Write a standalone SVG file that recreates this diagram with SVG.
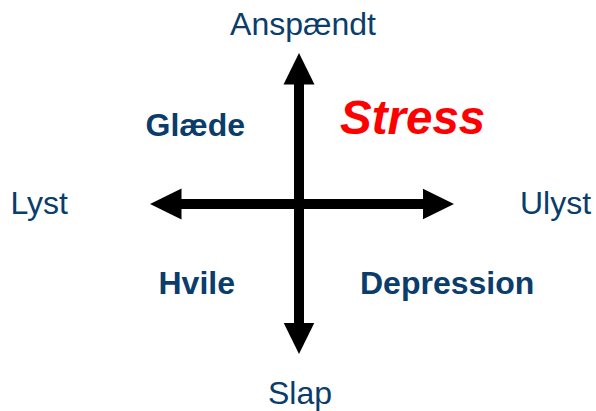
<svg xmlns="http://www.w3.org/2000/svg" width="596" height="411" viewBox="0 0 596 411">
  <style>
    .lbl { font-family: "Liberation Sans", Arial, sans-serif; font-size: 32px; fill: #0a3c6c; }
    .b { font-weight: bold; }
    .stress { font-family: "Liberation Sans", Arial, sans-serif; font-size: 47.5px; font-weight: bold; font-style: italic; fill: #ff0000; }
    .axis { stroke: #000; stroke-width: 10; fill: none; marker-start: url(#head); marker-end: url(#head); }
  </style>
  <defs>
    <marker id="head" markerUnits="userSpaceOnUse" markerWidth="32" markerHeight="32" viewBox="0 0 32 31" refX="0.5" refY="15.5" orient="auto-start-reverse">
      <path d="M0,0 L31.5,15.5 L0,31 Z" fill="#000"/>
    </marker>
  </defs>
  <rect width="596" height="411" fill="#fff"/>
  <g id="connectors">
    <line class="axis" x1="299" y1="84" x2="299" y2="323"/>
    <line class="axis" x1="181" y1="204" x2="423" y2="204"/>
  </g>
  <g id="anspaendt"><text class="lbl" x="303" y="35" text-anchor="middle">Anspændt</text></g>
  <g id="slap"><text class="lbl" x="300" y="403.5" text-anchor="middle">Slap</text></g>
  <g id="lyst"><text class="lbl" x="10.5" y="214">Lyst</text></g>
  <g id="ulyst"><text class="lbl" x="520" y="214">Ulyst</text></g>
  <g id="glaede"><text class="lbl b" x="145.5" y="135.5">Glæde</text></g>
  <g id="stress"><text class="stress" x="340" y="134">Stress</text></g>
  <g id="hvile"><text class="lbl b" x="158.5" y="294">Hvile</text></g>
  <g id="depression"><text class="lbl b" x="360" y="294">Depression</text></g>
</svg>
